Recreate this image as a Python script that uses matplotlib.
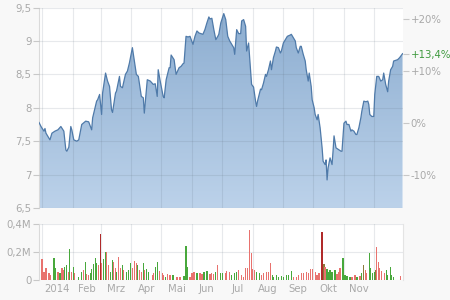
import matplotlib
matplotlib.use('Agg')
import matplotlib.pyplot as plt
import numpy as np
from matplotlib.patches import Polygon
from matplotlib.colors import LinearSegmentedColormap

# ---- data (days since 2014-01-01) ----
price_days = [-3, -1, 2, 3, 4, 8, 10, 13, 16, 19, 22, 24, 25, 27, 29, 30, 32, 35, 37, 40,
              44, 47, 50, 51, 55, 56, 58, 60, 61, 64, 66, 68, 70, 71, 74, 75, 78, 79, 81, 84,
              86, 88, 91, 92, 95, 97, 100, 102, 103, 106, 109, 112, 114, 116, 117, 119, 122, 123, 125, 128,
              129, 130, 133, 135, 138, 140, 142, 143, 145, 147, 149, 152, 154, 156, 158, 162, 164, 166, 168, 169,
              171, 173, 175, 177, 178, 180, 183, 185, 187, 189, 191, 193, 194, 196, 198, 200, 201, 203, 205, 206,
              208, 210, 211, 213, 215, 216, 217, 220, 221, 223, 225, 226, 228, 230, 231, 233, 235, 236, 238, 240,
              241, 243, 245, 247, 250, 251, 253, 255, 256, 258, 260, 261, 263, 265, 266, 268, 269, 271, 272, 274,
              275, 277, 278, 280, 282, 283, 285, 286, 287, 288, 290, 292, 293, 294, 296, 297, 299, 301, 302, 304,
              306, 307, 309, 311, 312, 314, 316, 317, 319, 321, 322, 324, 326, 328, 329, 330, 332, 334, 335, 337,
              339, 341, 343, 344, 346, 348, 349, 351, 353, 354, 358, 360, 361, 363]
price_values = [7.78, 7.72, 7.65, 7.69, 7.62, 7.52, 7.62, 7.65, 7.67, 7.72, 7.65, 7.37, 7.35, 7.41, 7.72, 7.67, 7.52, 7.50, 7.52, 7.75,
                7.80, 7.79, 7.67, 7.85, 8.10, 8.12, 8.20, 7.90, 8.22, 8.52, 8.40, 8.32, 7.97, 7.93, 8.22, 8.25, 8.47, 8.32, 8.30, 8.50,
                8.55, 8.67, 8.90, 8.80, 8.50, 8.47, 8.17, 8.15, 7.92, 8.42, 8.40, 8.35, 8.36, 8.17, 8.57, 8.40, 8.17, 8.15, 8.42, 8.60,
                8.60, 8.79, 8.72, 8.50, 8.60, 8.62, 8.66, 8.67, 9.07, 9.06, 9.07, 8.95, 9.07, 9.15, 9.12, 9.10, 9.17, 9.27, 9.36, 9.33,
                9.34, 9.17, 9.02, 9.07, 9.10, 9.27, 9.41, 9.32, 9.07, 9.00, 8.95, 8.90, 8.80, 9.17, 9.11, 9.11, 9.30, 9.32, 9.22, 8.85,
                8.97, 8.57, 8.35, 8.31, 8.10, 8.02, 8.10, 8.28, 8.27, 8.37, 8.50, 8.47, 8.57, 8.70, 8.57, 8.75, 8.85, 8.91, 8.90, 8.82,
                8.85, 8.97, 9.02, 9.07, 9.09, 9.10, 9.05, 9.00, 8.90, 8.82, 8.92, 8.92, 8.80, 8.70, 8.57, 8.40, 8.52, 8.32, 8.12, 8.00,
                7.90, 7.82, 7.90, 7.70, 7.40, 7.20, 7.15, 7.22, 6.92, 7.10, 7.25, 7.15, 7.35, 7.58, 7.40, 7.39, 7.37, 7.35, 7.35, 7.77,
                7.80, 7.75, 7.75, 7.65, 7.67, 7.65, 7.60, 7.60, 7.70, 7.85, 7.95, 8.10, 8.09, 8.10, 8.05, 7.90, 7.87, 7.87, 8.20, 8.47,
                8.47, 8.40, 8.42, 8.52, 8.35, 8.24, 8.40, 8.57, 8.62, 8.70, 8.72, 8.75, 8.77, 8.81]
base_price = 7.77

vol_days = [-3, 0, 2, 4, 7, 8, 12, 13, 16, 18, 20, 22, 23, 25, 27, 28, 30, 32, 33, 37,
            40, 42, 44, 45, 47, 49, 50, 52, 54, 55, 57, 59, 60, 62, 64, 65, 67, 69, 71, 72,
            74, 75, 77, 79, 81, 82, 85, 87, 89, 91, 93, 95, 96, 98, 100, 102, 103, 105, 107, 111,
            112, 114, 116, 118, 121, 122, 124, 126, 129, 132, 136, 139, 143, 145, 146, 149, 151, 153, 156, 159,
            161, 163, 166, 169, 171, 173, 175, 177, 180, 182, 185, 186, 189, 191, 194, 196, 198, 201, 203, 205,
            207, 209, 211, 212, 214, 216, 219, 221, 223, 226, 228, 230, 232, 233, 236, 238, 241, 243, 246, 248,
            251, 253, 256, 258, 261, 263, 266, 268, 270, 272, 275, 277, 279, 282, 284, 285, 287, 289, 290, 292,
            295, 297, 299, 300, 303, 305, 307, 310, 312, 315, 317, 320, 322, 324, 326, 327, 330, 331, 333, 335,
            336, 337, 339, 340, 342, 345, 347, 348, 351, 352, 354, 361]
vol_values = [0.058, 0.147, 0.058, 0.082, 0.046, 0.034, 0.154, 0.082, 0.058, 0.046, 0.082, 0.070, 0.094, 0.106, 0.058, 0.219, 0.058, 0.089, 0.046, 0.022,
              0.058, 0.070, 0.130, 0.041, 0.034, 0.046, 0.075, 0.113, 0.154, 0.118, 0.106, 0.328, 0.118, 0.147, 0.202, 0.202, 0.106, 0.058, 0.142, 0.130,
              0.082, 0.058, 0.166, 0.082, 0.106, 0.070, 0.058, 0.070, 0.118, 0.082, 0.135, 0.118, 0.106, 0.070, 0.058, 0.118, 0.070, 0.075, 0.058, 0.034,
              0.046, 0.089, 0.130, 0.063, 0.046, 0.034, 0.022, 0.041, 0.034, 0.034, 0.022, 0.017, 0.027, 0.243, 0.094, 0.022, 0.046, 0.058, 0.046, 0.046,
              0.041, 0.058, 0.063, 0.041, 0.046, 0.041, 0.058, 0.106, 0.046, 0.046, 0.046, 0.063, 0.058, 0.034, 0.046, 0.053, 0.070, 0.034, 0.022, 0.082,
              0.082, 0.359, 0.195, 0.075, 0.070, 0.058, 0.046, 0.034, 0.046, 0.058, 0.058, 0.118, 0.034, 0.022, 0.034, 0.022, 0.027, 0.022, 0.034, 0.034,
              0.065, 0.017, 0.022, 0.034, 0.046, 0.046, 0.058, 0.046, 0.075, 0.075, 0.058, 0.034, 0.051, 0.342, 0.113, 0.094, 0.075, 0.058, 0.070, 0.058,
              0.070, 0.041, 0.058, 0.082, 0.159, 0.034, 0.027, 0.022, 0.022, 0.034, 0.022, 0.027, 0.046, 0.106, 0.070, 0.046, 0.195, 0.082, 0.046, 0.058,
              0.070, 0.239, 0.130, 0.082, 0.063, 0.046, 0.070, 0.034, 0.094, 0.034, 0.022, 0.027]
vol_kind = list("grrrrrggrgrrggrgrgrg"
                "grgrrgggggrdrggrrggr"
                "rgrrgrgggrrrgrrgrggr"
                "rggrrrgrrgrrggg" "rrrgr"
                "rgg" "rrr" "grggrrrgggrrrr"
                "rrrrrggrrrrrgggggggg"
                "grrrrrrrrrrrrdorgggg"
                "grrrggggrrgrgorrgg"
                "gg" "orrrrrggg" "g")

month_starts = [0, 31, 59, 90, 120, 151, 181, 212, 243, 273, 304, 334]
month_centers = [15.5, 45, 74.5, 105, 135.5, 166, 196.5, 227.5, 258, 288.5, 319]
month_labels = ['2014', 'Feb', 'Mrz', 'Apr', 'Mai', 'Jun', 'Jul', 'Aug', 'Sep', 'Okt', 'Nov']
price_ticks = [6.5, 7, 7.5, 8, 8.5, 9, 9.5]
price_labels = ['6,5', '7', '7,5', '8', '8,5', '9', '9,5']
pct_ticks = [-10, 0, 10, 20]
pct_labels = ['-10%', '0%', '+10%', '+20%']
vol_ticks = [0, 0.2, 0.4]
vol_labels = ['0', '0,2M', '0,4M']

XMIN, XMAX = -3, 363.5
YMIN, YMAX = 6.5, 9.5

# ---- style ----
TXT = '#a9a9a9'
GRIDC = '#5a6a7a'
GRIDA = 0.14
plt.rcParams['font.family'] = ['DejaVu Sans']

fig = plt.figure(figsize=(4.5, 3), dpi=100, facecolor='#f8f8f8')
ax = fig.add_axes([0.0867, 0.3067, 0.809, 0.668])
axv = fig.add_axes([0.0867, 0.0677, 0.809, 0.1846])

for a in (ax, axv):
    a.set_facecolor('#ffffff')
    for s in ('top', 'bottom', 'right'):
        a.spines[s].set_visible(False)
    a.spines['left'].set_color('#dadada')
    a.spines['left'].set_linewidth(0.8)
    a.set_xlim(XMIN, XMAX)

# price area
xs = np.array(price_days, dtype=float)
ys = np.array(price_values)
verts = [(xs[0], YMIN)] + list(zip(xs, ys)) + [(xs[-1], YMIN)]
poly = Polygon(verts, closed=True, facecolor='none', edgecolor='none')
ax.add_patch(poly)
cmap = LinearSegmentedColormap.from_list('g', ['#8cadd0', '#bcd2ea'])
grad = np.linspace(0, 1, 256).reshape(-1, 1)
im = ax.imshow(grad, extent=[XMIN, XMAX, YMIN, YMAX], origin='upper', aspect='auto',
               cmap=cmap, zorder=1, interpolation='bilinear')
im.set_clip_path(poly)
ax.plot(xs, ys, color='#4f7aa9', lw=0.9, zorder=3)
ax.set_ylim(YMIN, YMAX)

ax.set_axisbelow(False)
ax.set_yticks(price_ticks)
ax.set_yticklabels(price_labels)
ax.set_xticks(month_starts)
ax.set_xticklabels([])
ax.tick_params(axis='x', length=0)
ax.tick_params(axis='y', length=4, color='#c8c8c8', labelcolor=TXT, labelsize=7.3, pad=1.5)
ax.grid(True, color=GRIDC, alpha=GRIDA, lw=0.8)

ax2 = ax.twinx()
for s in ax2.spines.values():
    s.set_visible(False)
ax2.set_ylim(YMIN, YMAX)
last_pct = (price_values[-1] / base_price - 1) * 100
r_ticks = [base_price * (1 + p / 100) for p in pct_ticks] + [price_values[-1]]
r_labels = pct_labels + [('+' if last_pct >= 0 else '') + f'{last_pct:.1f}%'.replace('.', ',')]
ax2.set_yticks(r_ticks)
ax2.set_yticklabels(r_labels)
ax2.tick_params(axis='y', length=4, color='#c8c8c8', labelcolor=TXT, labelsize=7.3, pad=1.5)
ax2.get_yticklabels()[-1].set_color('#3f9a3f')

# volume
cmap_v = {'g': '#48a83c', 'r': '#e8726e', 'd': '#b02a2a', 'o': '#8c7a3c'}
vcols = [cmap_v[k] for k in vol_kind]
axv.bar(vol_days, vol_values, width=1.3, color=vcols, zorder=2, linewidth=0)
axv.set_ylim(0, 0.4)
axv.set_yticks(vol_ticks)
axv.set_yticklabels(vol_labels)
axv.set_xticks(month_starts)
axv.set_xticklabels([])
axv.set_xticks(month_centers, minor=True)
axv.set_xticklabels(month_labels, minor=True)
axv.tick_params(axis='x', which='both', length=0, labelcolor=TXT, labelsize=7.3, pad=3)
axv.tick_params(axis='y', length=4, color='#c8c8c8', labelcolor=TXT, labelsize=7.3, pad=1.5)
axv.set_axisbelow(True)
axv.grid(True, which='major', color=GRIDC, alpha=GRIDA, lw=0.8)
axv.spines['right'].set_visible(True)
axv.spines['right'].set_color('#e4e4e4')

fig.savefig('out.png', dpi=100, facecolor=fig.get_facecolor())
